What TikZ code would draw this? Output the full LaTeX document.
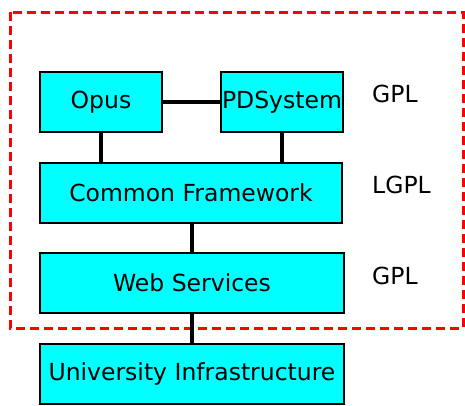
\documentclass[tikz,border=0pt]{standalone}
\usepackage{fontspec}
\setmainfont{DejaVu Sans}
\definecolor{boxcyan}{RGB}{0,255,255}
\begin{document}
\begin{tikzpicture}[x=1pt,y=-1pt,
  block/.style={draw=black,line width=1.5pt,fill=boxcyan,inner sep=0pt,font=\fontsize{23.5}{28}\selectfont},
  lic/.style={anchor=west,inner sep=0pt,font=\fontsize{23.5}{28}\selectfont},
  link/.style={line width=3.5pt,black}]
\useasboundingbox (0,0) rectangle (465,405);
\clip (0,0) rectangle (465,405);
\node[block,minimum width=122pt,minimum height=60pt] (opus) at (101,102) {Opus};
\node[block,minimum width=122pt,minimum height=60pt] (pds) at (282,102) {PDSystem};
\node[block,minimum width=302pt,minimum height=60pt] (cf) at (191,193) {Common Framework};
\node[block,minimum width=304pt,minimum height=60pt] (ws) at (192,283) {Web Services};
\node[block,minimum width=304pt,minimum height=60pt] (ui) at (192,374) {University Infrastructure};
\node[lic] (l1) at (372,94) {GPL};
\node[lic] (l2) at (372,185) {LGPL};
\node[lic] (l3) at (372,276) {GPL};
\draw[red,line width=3pt,dash pattern=on 9pt off 5pt] (10,12) rectangle (463,328);
\draw[link] (opus.east) -- (pds.west);
\draw[link] (opus.south) -- (opus.south |- cf.north);
\draw[link] (pds.south) -- (pds.south |- cf.north);
\draw[link] (cf.south -| ws.south) -- (ws.north);
\draw[link] (ws.south) -- (ui.north);
\end{tikzpicture}
\end{document}
